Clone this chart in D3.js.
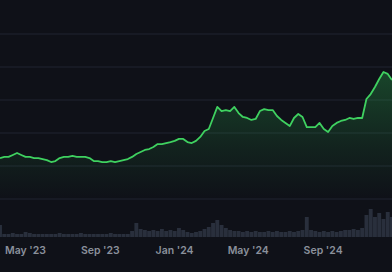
<!DOCTYPE html>
<html>
<head>
<meta charset="utf-8">
<script src="https://cdn.jsdelivr.net/npm/d3@7"></script>
<style>
  html, body { margin: 0; padding: 0; background: #0f1118; overflow: hidden; }
  svg { display: block; }
</style>
</head>
<body>
<div id="plot"></div>
<script>
// weekly closes
var dates = ["2023-03-21","2023-03-28","2023-04-04","2023-04-11","2023-04-18","2023-04-25","2023-05-02","2023-05-09","2023-05-16","2023-05-23","2023-05-30","2023-06-06","2023-06-13","2023-06-20","2023-06-27","2023-07-04","2023-07-11","2023-07-18","2023-07-25","2023-08-01","2023-08-08","2023-08-15","2023-08-22","2023-08-29","2023-09-05","2023-09-12","2023-09-19","2023-09-26","2023-10-03","2023-10-10","2023-10-17","2023-10-24","2023-10-31","2023-11-07","2023-11-14","2023-11-21","2023-11-28","2023-12-05","2023-12-12","2023-12-19","2023-12-26","2024-01-02","2024-01-09","2024-01-16","2024-01-23","2024-01-30","2024-02-06","2024-02-13","2024-02-20","2024-02-27","2024-03-05","2024-03-12","2024-03-19","2024-03-26","2024-04-02","2024-04-09","2024-04-16","2024-04-23","2024-04-30","2024-05-07","2024-05-14","2024-05-21","2024-05-28","2024-06-04","2024-06-11","2024-06-18","2024-06-25","2024-07-02","2024-07-09","2024-07-16","2024-07-23","2024-07-30","2024-08-06","2024-08-13","2024-08-20","2024-08-27","2024-09-03","2024-09-10","2024-09-17","2024-09-24","2024-10-01","2024-10-08","2024-10-15","2024-10-22","2024-10-29","2024-11-05","2024-11-12","2024-11-19","2024-11-26","2024-12-03","2024-12-10","2024-12-17","2024-12-24"];

var prices = [24.8,25.5,25.5,26.7,27.9,26.7,25.5,25.5,24.8,24.8,
              24.2,23.6,22.4,23.0,24.8,25.5,25.5,26.1,25.5,25.5,
              25.5,24.8,23.0,23.0,22.4,22.4,23.0,22.4,23.0,23.6,
              24.2,25.5,27.3,28.5,29.7,30.3,31.5,33.3,33.3,33.9,
              34.5,35.2,36.4,36.4,34.5,33.9,35.2,37.6,41.2,42.4,
              49.1,55.8,53.3,53.9,53.3,55.8,52.1,49.7,49.1,47.9,
              48.5,53.3,54.5,53.9,53.9,50.3,47.9,46.1,44.2,49.1,
              51.5,49.7,43.6,43.6,43.6,46.1,42.4,40.6,44.2,46.1,
              47.3,47.9,49.1,48.5,49.1,49.1,60.6,63.6,67.9,72.7,
              77.0,75.8,72.1];

var volumes = [12,3,3,4,3,3,5,4,3,3,
               3,3,3,3,4,3,3,3,3,4,
               3,3,3,3,3,3,4,3,3,3,
               3,6,14,8,7,6,7,6,8,6,
               7,6,9,7,5,4,5,6,8,10,
               14,17,12,9,7,6,6,5,6,5,
               6,5,5,6,5,6,5,5,6,5,
               6,7,20,7,6,5,6,5,6,5,
               6,7,7,8,7,9,22,28,20,24,
               18,25,20];

var gridValues = [0, 20, 40, 60, 80, 100];
var xDomain = ["2023-03-21", "2024-12-24"];

var svgWidth = 392;
var svgHeight = 272;

var parseDate = d3.timeParse("%Y-%m-%d");
var data = dates.map(function (d, i) {
    return { date: parseDate(d), price: prices[i], volume: volumes[i] };
});

var svg = d3.select("#plot")
    .append("svg")
    .attr("width", svgWidth)
    .attr("height", svgHeight);

svg.append("rect")
    .attr("width", svgWidth)
    .attr("height", svgHeight)
    .attr("fill", "#0f1118");

// scales
var xScale = d3.scaleTime()
    .domain(xDomain.map(parseDate))
    .range([0, svgWidth]);

var yScale = d3.scaleLinear()
    .domain([0, 100])
    .range([199, 34]);

var volScale = d3.scaleLinear()
    .domain([0, 30])
    .range([237, 207]);

// gridlines
svg.append("g")
    .selectAll("line")
    .data(gridValues)
    .enter().append("line")
    .attr("x1", 0)
    .attr("x2", svgWidth)
    .attr("y1", d => yScale(d))
    .attr("y2", d => yScale(d))
    .attr("stroke", "#1b1e28")
    .attr("stroke-width", 1.5);

// area gradient
var defs = svg.append("defs");
var grad = defs.append("linearGradient")
    .attr("id", "areaFill")
    .attr("gradientUnits", "userSpaceOnUse")
    .attr("x1", 0).attr("x2", 0)
    .attr("y1", yScale(d3.max(prices)))
    .attr("y2", yScale(0));
grad.append("stop").attr("offset", "0%").attr("stop-color", "#2fbf55").attr("stop-opacity", 0.3);
grad.append("stop").attr("offset", "60%").attr("stop-color", "#2fbf55").attr("stop-opacity", 0.1);
grad.append("stop").attr("offset", "100%").attr("stop-color", "#2fbf55").attr("stop-opacity", 0);

var area = d3.area()
    .x(d => xScale(d.date))
    .y0(yScale(0))
    .y1(d => yScale(d.price));

svg.append("path")
    .datum(data)
    .attr("d", area)
    .attr("fill", "url(#areaFill)");

// volume bars
var barW = xScale(data[1].date) - xScale(data[0].date) - 0.4;
svg.append("g")
    .selectAll("rect")
    .data(data)
    .enter().append("rect")
    .attr("x", d => xScale(d.date) - barW / 2)
    .attr("y", d => volScale(d.volume))
    .attr("width", barW)
    .attr("height", d => volScale(0) - volScale(d.volume))
    .attr("fill", "#3a4455")
    .attr("opacity", 0.6);

// price line
var line = d3.line()
    .x(d => xScale(d.date))
    .y(d => yScale(d.price));

svg.append("path")
    .datum(data)
    .attr("d", line)
    .attr("fill", "none")
    .attr("stroke", "#3fd160")
    .attr("stroke-width", 1.8)
    .attr("stroke-linejoin", "round");

// x axis
var bottomAxis = d3.axisBottom(xScale)
    .ticks(d3.timeMonth.every(4))
    .tickFormat(d3.timeFormat("%b '%y"))
    .tickSize(0)
    .tickPadding(3);

var axisG = svg.append("g")
    .attr("transform", "translate(0, 244)")
    .call(bottomAxis);
axisG.select(".domain").remove();
axisG.selectAll("text")
    .attr("fill", "#8a909b")
    .attr("font-family", "Inter, 'Noto Sans', sans-serif")
    .attr("font-size", "10.5px")
    .attr("font-weight", 600);
</script>
</body>
</html>
